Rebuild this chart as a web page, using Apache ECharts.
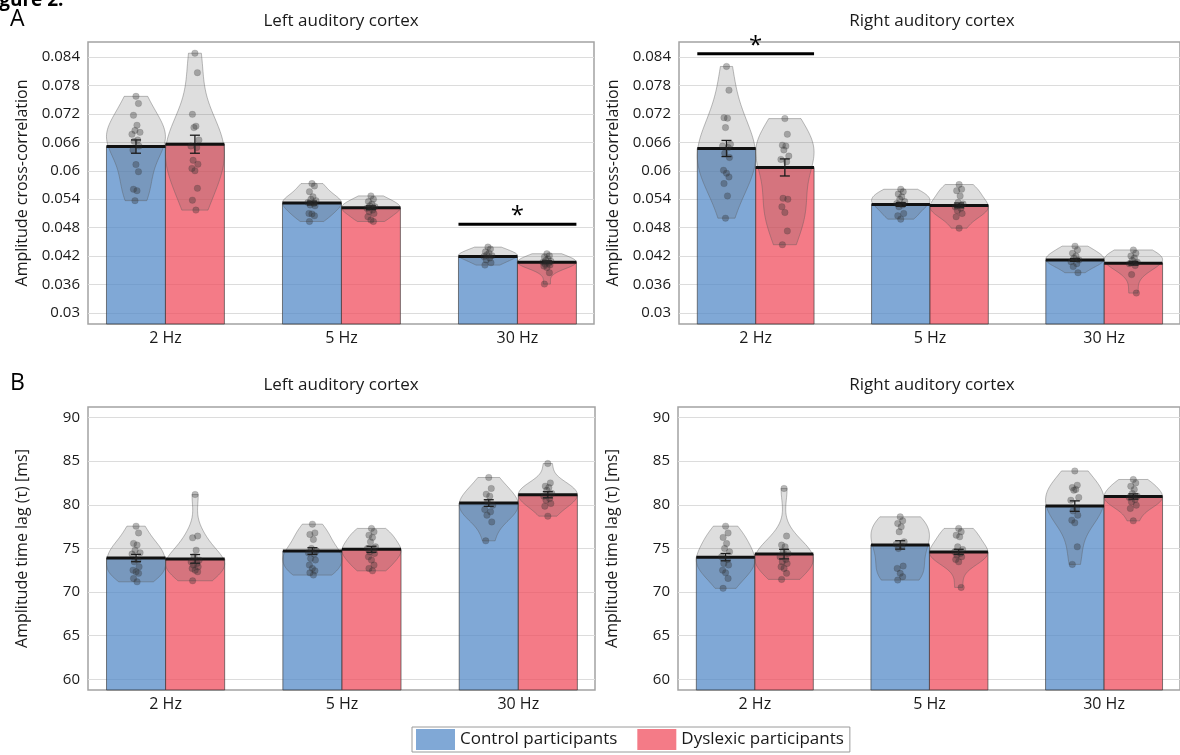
<!DOCTYPE html>
<html>
<head>
<meta charset="utf-8">
<script src="https://cdn.jsdelivr.net/npm/echarts@6/dist/echarts.min.js"></script>
<style>
  html, body { margin: 0; padding: 0; background: #fff; }
  #chart { width: 1180px; height: 755px; }
</style>
</head>
<body>
<div id="chart"></div>
<script>
const categories = ['2 Hz', '5 Hz', '30 Hz'];
const groupNames = ['Control participants', 'Dyslexic participants'];
const corrTicks = [0.03, 0.036, 0.042, 0.048, 0.054, 0.06, 0.066, 0.072, 0.078, 0.084];
const lagTicks = [60, 65, 70, 75, 80, 85, 90];

// A: amplitude cross-correlation, left auditory cortex
const leftCorrCtrlMean = [0.0651, 0.0532, 0.0419];
const leftCorrDysMean = [0.0656, 0.0522, 0.0407];
const leftCorrCtrlSem = [0.0014, 0.0004, 0.0002];
const leftCorrDysSem = [0.0019, 0.0004, 0.0003];
const leftCorrCtrlPts = [
  [0.0757, 0.0742, 0.0717, 0.0696, 0.0685, 0.0681, 0.0677, 0.0665, 0.0662, 0.0652, 0.0644, 0.0613, 0.0598, 0.0561, 0.0558, 0.0537],
  [0.0573, 0.0568, 0.0556, 0.0545, 0.0540, 0.0537, 0.0533, 0.0531, 0.0528, 0.0526, 0.0510, 0.0509, 0.0505, 0.0493],
  [0.0439, 0.0435, 0.0429, 0.0426, 0.0423, 0.0421, 0.0419, 0.0416, 0.0412, 0.0406, 0.0401]
];
const leftCorrDysPts = [
  [0.0848, 0.0807, 0.0719, 0.0694, 0.0691, 0.0665, 0.0652, 0.0649, 0.0622, 0.0614, 0.0605, 0.0600, 0.0563, 0.0538, 0.0517],
  [0.0547, 0.0540, 0.0535, 0.0530, 0.0526, 0.0524, 0.0521, 0.0517, 0.0514, 0.0510, 0.0503, 0.0496, 0.0493],
  [0.0425, 0.0421, 0.0418, 0.0414, 0.0411, 0.0409, 0.0407, 0.0405, 0.0403, 0.0401, 0.0399, 0.0396, 0.0385, 0.0361]
];
const leftCorrSig = [[2, 0.0487]];

// A: amplitude cross-correlation, right auditory cortex
const rightCorrCtrlMean = [0.0647, 0.0529, 0.0412];
const rightCorrDysMean = [0.0607, 0.0527, 0.0405];
const rightCorrCtrlSem = [0.0017, 0.0004, 0.0003];
const rightCorrDysSem = [0.0018, 0.0005, 0.0004];
const rightCorrCtrlPts = [
  [0.0820, 0.0770, 0.0712, 0.0711, 0.0691, 0.0656, 0.0652, 0.0649, 0.0637, 0.0628, 0.0601, 0.0595, 0.0587, 0.0573, 0.0547, 0.0500],
  [0.0561, 0.0556, 0.0551, 0.0545, 0.0540, 0.0535, 0.0531, 0.0528, 0.0524, 0.0510, 0.0505, 0.0498],
  [0.0441, 0.0433, 0.0426, 0.0420, 0.0416, 0.0412, 0.0408, 0.0404, 0.0398, 0.0385]
];
const rightCorrDysPts = [
  [0.0710, 0.0677, 0.0654, 0.0652, 0.0644, 0.0631, 0.0624, 0.0619, 0.0542, 0.0540, 0.0524, 0.0512, 0.0473, 0.0444],
  [0.0571, 0.0561, 0.0558, 0.0547, 0.0533, 0.0530, 0.0524, 0.0521, 0.0516, 0.0510, 0.0503, 0.0479],
  [0.0433, 0.0426, 0.0420, 0.0416, 0.0411, 0.0407, 0.0404, 0.0400, 0.0381, 0.0342]
];
const rightCorrSig = [[0, 0.0847]];

// B: amplitude time lag, left auditory cortex
const leftLagCtrlMean = [73.9, 74.7, 80.2];
const leftLagDysMean = [73.8, 74.9, 81.15];
const leftLagCtrlSem = [0.42, 0.38, 0.38];
const leftLagDysSem = [0.5, 0.35, 0.35];
const leftLagCtrlPts = [
  [77.55, 76.78, 75.57, 75.38, 74.8, 74.5, 74.35, 73.66, 73.46, 72.89, 72.51, 72.32, 72.14, 71.56, 71.17],
  [77.78, 76.78, 76.6, 76.03, 75.0, 74.72, 74.5, 74.35, 73.85, 73.66, 73.09, 72.71, 72.43, 72.2, 71.94],
  [83.13, 81.87, 81.22, 80.99, 80.33, 79.96, 79.46, 79.19, 78.81, 78.04, 75.87]
];
const leftLagDysPts = [
  [81.18, 76.41, 76.21, 74.8, 74.04, 73.66, 73.46, 73.28, 73.09, 72.89, 72.71, 72.51, 72.32, 71.29],
  [77.29, 76.9, 76.52, 76.26, 75.75, 75.18, 75.0, 74.8, 74.61, 74.43, 74.04, 73.66, 73.09, 72.71, 72.43],
  [84.73, 82.51, 82.13, 81.98, 81.67, 81.3, 80.99, 80.72, 80.53, 80.15, 79.84, 78.7]
];

// B: amplitude time lag, right auditory cortex
const rightLagCtrlMean = [74.0, 75.4, 79.85];
const rightLagDysMean = [74.35, 74.6, 80.95];
const rightLagCtrlSem = [0.42, 0.48, 0.6];
const rightLagDysSem = [0.55, 0.3, 0.3];
const rightLagCtrlPts = [
  [77.55, 76.78, 76.26, 75.57, 75.0, 74.61, 74.04, 73.74, 73.28, 73.09, 72.51, 72.2, 71.56, 70.42],
  [78.62, 78.16, 77.86, 77.47, 76.9, 75.75, 75.49, 75.26, 75.0, 72.97, 72.71, 72.14, 71.75, 71.37],
  [83.88, 82.25, 81.98, 81.75, 81.67, 80.84, 80.53, 79.58, 79.3, 78.81, 78.24, 77.93, 75.18, 73.17]
];
const rightLagDysPts = [
  [81.87, 76.41, 75.38, 75.18, 74.61, 74.43, 74.04, 73.74, 73.46, 73.28, 72.89, 72.71, 72.14, 71.45],
  [77.29, 76.9, 76.52, 76.33, 75.18, 74.88, 74.61, 74.43, 74.23, 74.04, 73.74, 73.46, 70.53],
  [82.9, 82.51, 82.13, 81.75, 81.3, 80.99, 80.84, 80.61, 80.33, 79.96, 79.58, 78.16]
];

const FONT = '"Open Sans", "Noto Sans", sans-serif';
const BAR_W = 0.335;        // one bar, in x-axis units
const PX_PER_UNIT = 176;    // approx pixels per category step
const BLUE = 'rgba(86,139,200,0.75)';
const RED = 'rgba(240,79,95,0.75)';
const JITTER = [0, 2.5, -2.5, 1, -1, 4, -4, 1.8, -1.8, 3, -3]; // px

function kde(pts, y, h) {
  let s = 0;
  for (const p of pts) {
    const u = (y - p) / h;
    s += Math.exp(-0.5 * u * u);
  }
  return s;
}

// scott-like rule of thumb on the standard deviation
function bandwidth(pts) {
  const n = pts.length;
  const mu = pts.reduce((a, b) => a + b, 0) / n;
  const sd = Math.sqrt(pts.reduce((a, b) => a + (b - mu) * (b - mu), 0) / (n - 1));
  return 1.06 * sd * Math.pow(n, -0.2);
}

function barSeries(panel, name, means, side, color) {
  return {
    type: 'custom', name, xAxisIndex: panel, yAxisIndex: panel,
    itemStyle: { color },
    data: means.map((m, i) => [i, m]),
    renderItem(params, api) {
      const x0 = api.value(0) + (side < 0 ? -BAR_W : 0);
      const top = api.coord([x0, api.value(1)]);
      const w = api.size([BAR_W, 0])[0];
      const bottom = params.coordSys.y + params.coordSys.height;
      return {
        type: 'rect',
        shape: { x: top[0], y: top[1], width: w, height: bottom - top[1] },
        style: { fill: color, stroke: 'rgba(60,60,60,0.65)', lineWidth: 1 }
      };
    }
  };
}

function violinSeries(panel, ptsList, side) {
  return {
    type: 'custom', xAxisIndex: panel, yAxisIndex: panel, silent: true,
    data: ptsList.map((p, i) => [i]),
    renderItem(params, api) {
      const i = params.dataIndex;
      const pts = ptsList[i];
      const cx = i + side * BAR_W / 2;
      const lo = Math.min(...pts), hi = Math.max(...pts);
      const h = bandwidth(pts);
      const N = 60;
      const dens = [];
      let dmax = 0;
      for (let k = 0; k <= N; k++) {
        const y = lo + (hi - lo) * k / N;
        const d = kde(pts, y, h);
        dens.push([y, d]);
        if (d > dmax) dmax = d;
      }
      const halfW = api.size([BAR_W / 2, 0])[0];
      const xc = api.coord([cx, lo])[0];
      const leftSide = dens.map(([y, d]) => [xc - d / dmax * halfW, api.coord([cx, y])[1]]);
      const rightSide = dens.map(([y, d]) => [xc + d / dmax * halfW, api.coord([cx, y])[1]]).reverse();
      return {
        type: 'polygon',
        shape: { points: leftSide.concat(rightSide) },
        style: { fill: 'rgba(90,90,90,0.2)', stroke: 'rgba(90,90,90,0.4)', lineWidth: 1 }
      };
    }
  };
}

function pointSeries(panel, ptsList, side) {
  const data = [];
  ptsList.forEach((pts, i) => {
    pts.forEach((v, k) => {
      data.push([i + side * BAR_W / 2 + JITTER[k % JITTER.length] / PX_PER_UNIT, v]);
    });
  });
  return {
    type: 'scatter', xAxisIndex: panel, yAxisIndex: panel, silent: true,
    symbolSize: 6.5,
    itemStyle: { color: 'rgba(45,45,45,0.42)', borderColor: 'rgba(40,40,40,0.3)', borderWidth: 0.5 },
    data
  };
}

function meanSeries(panel, means, sems, side) {
  return {
    type: 'custom', xAxisIndex: panel, yAxisIndex: panel, silent: true,
    data: means.map((m, i) => [i, m, sems[i]]),
    renderItem(params, api) {
      const i = api.value(0), m = api.value(1), e = api.value(2);
      const x0 = i + (side < 0 ? -BAR_W : 0);
      const p0 = api.coord([x0, m]);
      const p1 = api.coord([x0 + BAR_W, m]);
      const cx = api.coord([i + side * BAR_W / 2, m])[0];
      const yHi = api.coord([i, m + e])[1];
      const yLo = api.coord([i, m - e])[1];
      const thin = { stroke: '#1a1a1a', lineWidth: 1.3 };
      return {
        type: 'group',
        children: [
          { type: 'line', shape: { x1: p0[0], y1: p0[1], x2: p1[0], y2: p1[1] }, style: { stroke: '#111', lineWidth: 3 } },
          { type: 'line', shape: { x1: cx, y1: yHi, x2: cx, y2: yLo }, style: thin },
          { type: 'line', shape: { x1: cx - 5, y1: yHi, x2: cx + 5, y2: yHi }, style: thin },
          { type: 'line', shape: { x1: cx - 5, y1: yLo, x2: cx + 5, y2: yLo }, style: thin }
        ]
      };
    }
  };
}

function sigSeries(panel, sig) {
  return {
    type: 'custom', xAxisIndex: panel, yAxisIndex: panel, silent: true,
    data: sig,
    renderItem(params, api) {
      const i = api.value(0), y = api.value(1);
      const a = api.coord([i - BAR_W, y]);
      const b = api.coord([i + BAR_W, y]);
      return {
        type: 'group',
        children: [
          { type: 'line', shape: { x1: a[0], y1: a[1], x2: b[0], y2: b[1] }, style: { stroke: '#000', lineWidth: 3 } },
          { type: 'text', style: { x: (a[0] + b[0]) / 2, y: a[1] + 4, text: '*', align: 'center', verticalAlign: 'bottom', font: '24px ' + FONT, fill: '#000' } }
        ]
      };
    }
  };
}

function panelSeries(panel, ctrlMean, dysMean, ctrlSem, dysSem, ctrlPts, dysPts, sig) {
  const list = [
    barSeries(panel, groupNames[0], ctrlMean, -1, BLUE),
    barSeries(panel, groupNames[1], dysMean, 1, RED),
    violinSeries(panel, ctrlPts, -1),
    violinSeries(panel, dysPts, 1),
    pointSeries(panel, ctrlPts, -1),
    pointSeries(panel, dysPts, 1),
    meanSeries(panel, ctrlMean, ctrlSem, -1),
    meanSeries(panel, dysMean, dysSem, 1)
  ];
  if (sig) list.push(sigSeries(panel, sig));
  return list;
}

const corrFmt = v => String(parseFloat(v.toFixed(3)));
const lagFmt = v => String(Math.round(v));

function xAxisFor(panel) {
  return {
    type: 'value', gridIndex: panel, min: -0.44, max: 2.435,
    axisLine: { show: false }, axisTick: { show: false }, splitLine: { show: false },
    axisLabel: {
      customValues: [0, 1, 2],
      formatter: v => categories[Math.round(v)],
      fontSize: 16, color: '#1a1a1a', fontFamily: FONT, margin: 6
    }
  };
}

function yAxisFor(panel, min, max, ticks, fmt, name) {
  return {
    type: 'value', gridIndex: panel, min, max,
    name, nameLocation: 'middle', nameGap: 58,
    nameTextStyle: { fontSize: 16, color: '#1a1a1a', fontFamily: FONT },
    axisLine: { show: false },
    axisTick: { show: false, customValues: ticks },
    axisLabel: { customValues: ticks, formatter: fmt, fontSize: 15, color: '#1a1a1a', fontFamily: FONT, margin: 8 },
    splitLine: { show: true, lineStyle: { color: '#dcdcdc', width: 1 } }
  };
}

const gridBase = { show: true, borderColor: '#a3a3a3', borderWidth: 1.5, backgroundColor: 'transparent' };
const corrName = 'Amplitude cross-correlation';
const lagName = 'Amplitude time lag (\u03c4) [ms]';

const chart = echarts.init(document.getElementById('chart'));
chart.setOption({
  backgroundColor: '#fff',
  animation: false,
  textStyle: { fontFamily: FONT },
  grid: [
    Object.assign({ left: 88, top: 42, width: 506, height: 282 }, gridBase),
    Object.assign({ left: 679, top: 42, width: 506, height: 282 }, gridBase),
    Object.assign({ left: 88, top: 407, width: 507, height: 283 }, gridBase),
    Object.assign({ left: 678, top: 407, width: 507, height: 283 }, gridBase)
  ],
  xAxis: [xAxisFor(0), xAxisFor(1), xAxisFor(2), xAxisFor(3)],
  yAxis: [
    yAxisFor(0, 0.02768, 0.08716, corrTicks, corrFmt, corrName),
    yAxisFor(1, 0.02768, 0.08716, corrTicks, corrFmt, corrName),
    yAxisFor(2, 58.77, 91.21, lagTicks, lagFmt, lagName),
    yAxisFor(3, 58.77, 91.21, lagTicks, lagFmt, lagName)
  ],
  legend: {
    left: 412, top: 727,
    itemWidth: 39, itemHeight: 21, itemGap: 20,
    padding: [2, 6, 2, 4],
    borderColor: '#9a9a9a', borderWidth: 1,
    textStyle: { fontSize: 17, color: '#1a1a1a', fontFamily: FONT },
    selectedMode: false,
    data: [
      { name: groupNames[0], icon: 'rect', itemStyle: { color: '#80a8d6' } },
      { name: groupNames[1], icon: 'rect', itemStyle: { color: '#f47b87' } }
    ]
  },
  graphic: [
    { type: 'text', left: -17, top: -9, style: { text: 'Figure 2.', font: 'bold 19px ' + FONT, fill: '#000' } },
    { type: 'text', left: 10, top: 8, style: { text: 'A', font: '23px ' + FONT, fill: '#000' } },
    { type: 'text', left: 10, top: 372, style: { text: 'B', font: '23px ' + FONT, fill: '#000' } },
    { type: 'text', x: 341, y: 21, style: { text: 'Left auditory cortex', font: '17px ' + FONT, fill: '#1a1a1a', align: 'center', verticalAlign: 'middle' } },
    { type: 'text', x: 932, y: 21, style: { text: 'Right auditory cortex', font: '17px ' + FONT, fill: '#1a1a1a', align: 'center', verticalAlign: 'middle' } },
    { type: 'text', x: 341, y: 385, style: { text: 'Left auditory cortex', font: '17px ' + FONT, fill: '#1a1a1a', align: 'center', verticalAlign: 'middle' } },
    { type: 'text', x: 932, y: 385, style: { text: 'Right auditory cortex', font: '17px ' + FONT, fill: '#1a1a1a', align: 'center', verticalAlign: 'middle' } }
  ],
  series: [].concat(
    panelSeries(0, leftCorrCtrlMean, leftCorrDysMean, leftCorrCtrlSem, leftCorrDysSem, leftCorrCtrlPts, leftCorrDysPts, leftCorrSig),
    panelSeries(1, rightCorrCtrlMean, rightCorrDysMean, rightCorrCtrlSem, rightCorrDysSem, rightCorrCtrlPts, rightCorrDysPts, rightCorrSig),
    panelSeries(2, leftLagCtrlMean, leftLagDysMean, leftLagCtrlSem, leftLagDysSem, leftLagCtrlPts, leftLagDysPts, null),
    panelSeries(3, rightLagCtrlMean, rightLagDysMean, rightLagCtrlSem, rightLagDysSem, rightLagCtrlPts, rightLagDysPts, null)
  )
});
</script>
</body>
</html>
